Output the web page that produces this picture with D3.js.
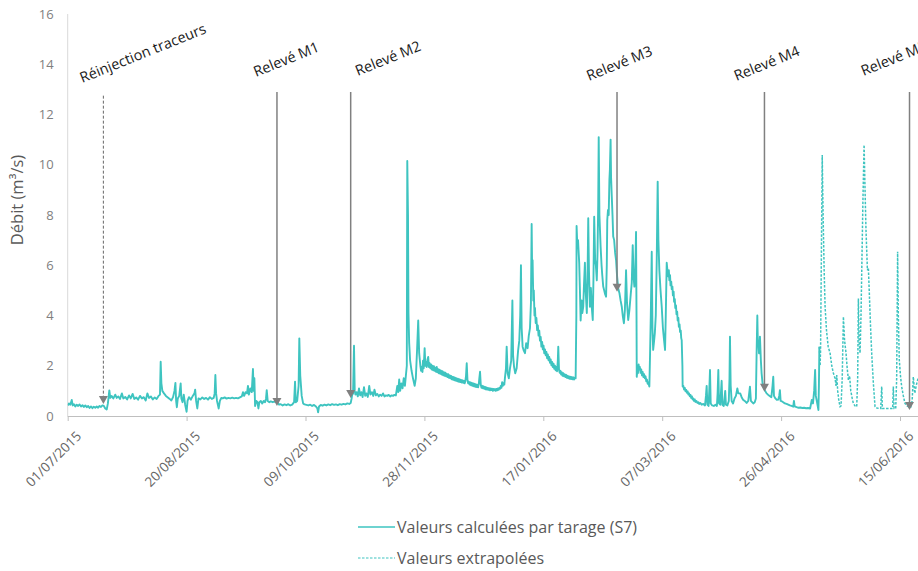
<!DOCTYPE html>
<html>
<head>
<meta charset="utf-8">
<script src="https://cdn.jsdelivr.net/npm/d3@7"></script>
<style>
  html, body { margin: 0; padding: 0; background: #fff; }
  svg { display: block; font-family: "Open Sans", "DejaVu Sans", sans-serif; }
</style>
</head>
<body>
<svg id="chart" width="918" height="571"></svg>
<script>
// Débit à la station S7 — series as [jour depuis le 01/07/2015, débit m³/s]
const startDate = "01/07/2015";
const endDate = "25/06/2016";

const xTickLabels = ["01/07/2015", "20/08/2015", "09/10/2015", "28/11/2015",
  "17/01/2016", "07/03/2016", "26/04/2016", "15/06/2016"];
const yTicks = [0, 2, 4, 6, 8, 10, 12, 14, 16];

// Valeurs calculées par tarage (S7)
const measuredSeries = [
  [0,0.42],[0.5,0.5],[1.1,0.45],[1.7,0.64],[2.1,0.42],[2.6,0.47],[3.2,0.38],[3.8,0.45],[4.4,0.4],[5,0.46],
  [5.6,0.38],[6.2,0.43],[6.8,0.36],[7.4,0.42],[8,0.35],[8.6,0.4],[9.2,0.32],[9.8,0.38],[10.4,0.31],[11,0.37],
  [11.6,0.33],[12.2,0.38],[12.8,0.33],[13.4,0.4],[14,0.36],[14.6,0.42],[15.2,0.4],[15.8,0.3],[16.4,0.26],[16.9,0.5],
  [17.2,0.75],[17.5,1.02],[17.9,0.72],[18.5,0.8],[19.2,0.7],[20,0.85],[20.6,0.72],[21.3,0.78],[22,0.68],[22.8,0.9],
  [23.4,0.7],[24.2,0.76],[25,0.66],[25.8,0.82],[26.5,0.7],[27.3,0.88],[28,0.68],[28.8,0.74],[29.6,0.65],[30.4,0.8],
  [31.2,0.7],[32,0.75],[32.8,0.62],[33.5,0.9],[34.2,0.72],[35,0.78],[35.8,0.66],[36.6,0.74],[37.4,0.68],[38.2,0.8],
  [38.8,0.85],[39.1,2.16],[39.4,1.3],[39.8,1.0],[40.5,0.9],[41.3,0.8],[42.1,0.74],[42.9,0.68],[43.6,0.62],[44.3,0.75],
  [44.9,1.0],[45.3,1.32],[45.6,0.6],[45.9,0.35],[46.3,0.7],[46.9,0.8],[47.5,1.3],[47.8,0.7],[48.3,0.55],[48.8,0.85],
  [49.4,0.45],[50,0.17],[50.4,0.6],[51,0.75],[51.8,0.65],[52.6,0.8],[53.3,0.9],[53.6,1.05],[54,0.6],[54.5,0.3],
  [55,0.7],[55.8,0.66],[56.6,0.74],[57.4,0.68],[58.2,0.72],[59,0.65],[59.8,0.75],[60.6,0.68],[61.4,0.72],[61.8,0.9],
  [62.1,1.63],[62.4,0.9],[62.8,0.6],[63.5,0.3],[64,0.6],[64.6,0.72],[65.2,0.7],[66,0.74],[66.8,0.69],[67.6,0.72],
  [68.4,0.7],[69.2,0.73],[70,0.7],[70.8,0.72],[71.6,0.7],[72.4,0.74],[73.2,0.78],[73.7,0.95],[74.2,0.8],[74.8,0.95],
  [75.4,0.9],[75.8,1.2],[76.2,0.85],[76.8,1.1],[77.4,0.95],[77.9,1.87],[78.2,1.0],[78.5,1.5],[78.8,0.4],[79.3,0.6],
  [79.8,0.55],[80.2,0.3],[80.6,0.55],[81.2,0.6],[81.8,0.5],[82.4,0.6],[83,0.55],[83.4,0.7],[83.7,1.03],[84.1,0.6],
  [84.8,0.55],[85.4,0.58],[86.2,0.55],[87,0.57],[87.8,0.55],[88.3,0.54],[88.9,0.45],[89.6,0.47],[90.4,0.42],[91.2,0.46],
  [92,0.43],[92.8,0.47],[93.6,0.42],[94.4,0.45],[95.2,0.55],[95.6,1.37],[95.9,0.55],[96.5,0.6],[97.1,1.2],[97.4,3.09],
  [97.8,1.6],[98.4,0.8],[99,0.5],[99.6,0.46],[100.4,0.44],[101.2,0.42],[102,0.45],[102.8,0.4],[103.6,0.44],[104.4,0.38],
  [105,0.3],[105.3,0.15],[105.7,0.38],[106.4,0.44],[107.2,0.41],[108,0.45],[108.8,0.42],[109.6,0.46],[110.4,0.43],[111.2,0.47],
  [112,0.44],[112.8,0.46],[113.6,0.43],[114.4,0.47],[115.2,0.45],[116,0.48],[116.8,0.46],[117.6,0.5],[118.4,0.48],[119,0.52],
  [119.4,0.7],[119.6,0.84],[120,0.9],[120.4,2.8],[120.7,1.0],[121,0.85],[121.5,0.95],[122,0.78],[122.5,1.1],[123,0.82],
  [123.5,0.95],[124,0.75],[124.6,1.15],[125.1,0.8],[125.6,0.9],[126.2,0.76],[126.8,1.2],[127.3,0.85],[127.9,0.95],[128.5,0.8],
  [129,1.05],[129.6,0.82],[130.2,0.88],[130.8,0.78],[131.4,0.85],[132,0.8],[132.6,0.9],[133.2,0.78],[133.8,0.82],[134.4,0.8],
  [135,0.84],[135.6,0.78],[136.2,0.82],[136.8,0.8],[137.4,0.84],[138,0.82],[138.6,1.2],[139,0.95],[139.4,1.45],[139.8,1.0],
  [140.3,1.3],[140.8,1.1],[141.3,1.5],[141.8,1.2],[142.2,1.6],[142.6,2.0],[142.8,10.15],[143.1,8.0],[143.3,4.1],[143.6,2.9],
  [144,2.2],[144.6,1.8],[145.2,1.5],[145.9,1.2],[146.4,1.5],[146.9,2.6],[147.4,3.8],[147.8,2.5],[148.3,2.0],[148.6,1.8],
  [148.9,1.95],[149.2,1.75],[149.4,2.2],[149.7,1.9],[150.1,2.7],[150.4,2.0],[150.7,2.15],[151,1.95],[151.3,2.25],[151.6,2.35],
  [151.9,1.95],[152.2,2.1],[152.5,1.9],[152.8,2.05],[153.1,1.85],[153.4,2.0],[153.7,1.82],[154,1.98],[154.3,1.8],[154.6,1.92],
  [154.9,1.76],[155.2,1.95],[155.5,1.74],[155.8,1.86],[156.1,1.7],[156.4,1.84],[156.7,1.68],[157,1.8],[157.3,1.65],[157.6,1.78],
  [157.9,1.62],[158.2,1.74],[158.5,1.6],[158.8,1.72],[159.1,1.58],[159.4,1.68],[159.7,1.55],[160,1.66],[160.3,1.52],[160.6,1.62],
  [160.9,1.5],[161.2,1.6],[161.5,1.46],[161.8,1.56],[162.1,1.44],[162.4,1.55],[162.7,1.42],[163,1.52],[163.3,1.4],[163.6,1.5],
  [163.9,1.38],[164.2,1.48],[164.5,1.36],[164.8,1.46],[165.1,1.35],[165.4,1.44],[165.7,1.33],[166,1.42],[166.3,1.32],[166.6,1.4],
  [166.9,1.3],[167.2,1.38],[167.5,1.6],[167.8,2.1],[168.1,1.45],[168.4,1.3],[168.7,1.36],[169,1.25],[169.3,1.34],[169.6,1.22],
  [169.9,1.32],[170.2,1.2],[170.5,1.3],[170.8,1.18],[171.1,1.28],[171.4,1.16],[171.7,1.26],[172,1.15],[172.3,1.24],[172.6,1.14],
  [172.9,1.3],[173.1,1.5],[173.4,1.76],[173.7,1.25],[174,1.12],[174.3,1.2],[174.6,1.1],[174.9,1.18],[175.2,1.08],[175.5,1.16],
  [175.8,1.06],[176.1,1.14],[176.4,1.05],[176.7,1.12],[177,1.04],[177.3,1.1],[177.6,1.02],[177.9,1.1],[178.2,1.03],[178.5,1.08],
  [178.8,1.0],[179.1,1.08],[179.4,1.02],[179.7,1.07],[180,1.0],[180.3,1.08],[180.6,1.02],[180.9,1.1],[181.2,1.04],[181.5,1.12],
  [181.8,1.08],[182.1,1.2],[182.4,1.12],[182.7,1.35],[183,1.2],[183.3,1.3],[183.6,1.25],[183.9,1.55],[184.3,1.9],[184.6,2.76],
  [185,1.7],[185.5,1.5],[186,1.9],[186.5,2.2],[187,4.6],[187.3,2.4],[187.7,1.96],[188.2,1.7],[188.8,1.9],[189.4,2.6],
  [189.9,3.0],[190.3,4.0],[190.6,6.0],[190.9,3.5],[191.3,2.76],[191.8,2.6],[192.3,2.5],[192.8,2.9],[193.4,2.7],[193.9,3.2],
  [194.4,3.5],[194.8,4.5],[195.1,7.64],[195.3,5.8],[195.5,6.2],[195.8,4.6],[196,5.0],[196.3,4.0],[196.5,4.3],[196.8,3.7],
  [197.1,3.9],[197.4,3.42],[197.7,3.6],[198,3.2],[198.3,3.4],[198.6,3.0],[198.9,3.15],[199.2,2.76],[199.5,2.95],[199.8,2.65],
  [200.1,2.8],[200.4,2.5],[200.7,2.65],[201,2.42],[201.3,2.55],[201.6,2.3],[201.9,2.45],[202.2,2.22],[202.5,2.35],[202.8,2.12],
  [203.1,2.25],[203.4,2.02],[203.7,2.15],[204,1.95],[204.3,2.08],[204.6,1.88],[204.9,2.0],[205.2,1.82],[205.5,1.95],[205.8,1.78],
  [206.1,2.2],[206.3,2.76],[206.6,1.85],[206.9,1.72],[207.2,1.8],[207.5,1.65],[207.8,1.74],[208.1,1.6],[208.4,1.7],[208.7,1.58],
  [209,1.66],[209.3,1.55],[209.6,1.64],[209.9,1.52],[210.2,1.6],[210.5,1.5],[210.8,1.58],[211.1,1.48],[211.4,1.56],[211.7,1.47],
  [212,1.55],[212.3,1.46],[212.6,1.54],[212.9,1.45],[213.2,1.52],[213.6,1.5],[213.9,4.0],[214,7.56],[214.3,6.8],[214.6,7.0],
  [215.1,6.1],[215.4,5.0],[215.7,3.8],[216.1,4.6],[216.4,4.1],[216.8,4.35],[217.1,5.2],[217.5,6.1],[217.8,5.0],[218.3,4.1],
  [218.6,5.5],[218.9,7.87],[219.2,5.8],[219.6,4.35],[220,5.1],[220.4,4.3],[220.8,3.82],[221.1,5.5],[221.4,7.93],[221.8,6.2],
  [222.1,6.0],[222.5,5.4],[222.8,6.5],[223.1,8.5],[223.3,11.1],[223.6,8.0],[224.1,6.74],[224.5,6.0],[224.8,5.6],[225.2,5.15],
  [225.6,5.0],[226,4.85],[226.4,4.75],[226.7,6.0],[226.9,7.8],[227.2,8.2],[227.5,8.0],[227.8,9.4],[228,9.8],[228.3,11.0],
  [228.5,9.5],[228.8,8.73],[229.1,8.0],[229.4,7.14],[229.8,7.0],[230.2,6.5],[230.6,6.2],[231,5.6],[231.5,5.08],[232,4.9],
  [232.5,4.6],[233,4.35],[233.4,4.0],[233.9,3.69],[234.3,4.2],[234.8,5.8],[235.2,4.5],[235.7,3.82],[236.2,4.2],[236.8,4.88],
  [237.2,5.3],[237.6,6.8],[238,5.5],[238.3,5.15],[238.7,5.8],[239,7.33],[239.2,4.0],[239.3,1.56],[239.6,1.9],[239.8,1.7],
  [240.1,2.05],[240.3,1.85],[240.6,1.95],[240.9,1.72],[241.2,1.85],[241.5,1.62],[241.8,1.75],[242.1,1.55],[242.4,1.66],[242.7,1.5],
  [243,1.58],[243.3,1.38],[243.6,1.45],[243.9,1.28],[244.2,1.32],[244.6,1.17],[244.9,2.5],[245.2,4.0],[245.6,6.54],[245.9,3.5],
  [246.2,2.63],[246.6,3.0],[246.9,3.3],[247.3,4.0],[247.7,6.2],[248.1,9.33],[248.4,7.0],[248.8,5.8],[249.3,5.0],[249.8,4.35],
  [250.3,3.5],[250.8,3.0],[251.2,2.63],[251.5,4.0],[251.9,6.1],[252.2,5.8],[252.6,5.55],[252.8,5.8],[253,5.4],[253.3,5.6],
  [253.5,5.2],[253.8,5.35],[254,5.05],[254.3,5.15],[254.5,4.8],[254.8,4.95],[255,4.55],[255.3,4.65],[255.5,4.3],[255.8,4.4],
  [256,4.05],[256.3,4.15],[256.5,3.8],[256.8,3.9],[257,3.55],[257.3,3.65],[257.5,3.35],[257.8,3.4],[258,3.1],[258.2,3.02],
  [258.5,2.0],[258.6,1.17],[258.9,1.2],[259.2,1.05],[259.5,1.12],[259.8,0.98],[260.1,1.04],[260.4,0.92],[260.7,0.98],[261,0.85],
  [261.3,0.9],[261.6,0.78],[261.9,0.84],[262.2,0.72],[262.5,0.78],[262.8,0.66],[263.1,0.7],[263.4,0.6],[263.7,0.66],[264,0.56],
  [264.4,0.6],[264.8,0.52],[265.2,0.55],[265.6,0.48],[266,0.52],[266.6,0.45],[267.3,0.48],[268,0.42],[268.4,0.8],[268.7,1.2],
  [269,0.45],[269.5,0.4],[269.8,1.0],[270.1,1.83],[270.4,0.5],[271,0.42],[271.7,0.4],[272.4,0.45],[273,0.4],[273.3,0.9],
  [273.6,1.83],[273.9,0.5],[274.4,0.45],[275,1.4],[275.3,0.45],[275.9,0.4],[276.5,1.0],[276.8,0.45],[277.4,0.42],[278,0.6],
  [278.3,1.5],[278.5,3.16],[278.8,1.2],[279.2,0.6],[279.8,0.5],[280.4,0.7],[281,0.8],[281.6,1.1],[282,0.9],[282.8,0.9],
  [283.4,0.75],[284,0.65],[284.7,0.6],[285.5,0.52],[286.2,0.6],[286.9,1.17],[287.3,0.6],[288.3,0.5],[288.9,0.55],[289.4,0.7],
  [289.7,2.5],[290,4.0],[290.2,3.0],[290.4,3.0],[290.7,2.5],[291.1,3.16],[291.5,2.2],[291.8,1.7],[292.2,1.3],[292.7,1.1],
  [293.3,1.0],[293.9,0.9],[294.5,0.85],[295.2,0.8],[295.9,0.75],[296.4,1.2],[296.7,1.56],[297,0.8],[297.6,0.7],[298.2,0.64],
  [298.8,0.65],[299.2,0.8],[299.5,1.03],[299.8,0.6],[300.4,0.58],[300.9,0.55],[301.6,0.5],[302.3,0.48],[303,0.45],[303.7,0.42],
  [304.4,0.4],[305.1,0.37],[305.4,0.6],[305.7,0.38],[306.5,0.35],[307.3,0.33],[308.1,0.34],[308.9,0.32],[309.7,0.33],[310.5,0.31],
  [311.3,0.32],[312.2,0.3],[312.9,0.64],[313.4,0.5],[313.9,1.0],[314.3,1.83],[314.6,0.8],[315,0.6],[315.4,0.4],[315.7,0.24],
  [315.9,1.2],[316.1,2.76]
];

// Valeurs extrapolées
const extrapolatedSeries = [
  [316.1,2.76],[316.4,2.0],[316.6,2.63],[316.9,6.0],[317.3,10.39],[317.5,9.0],[317.7,7.8],[318.1,5.8],[318.5,4.35],[319.1,3.4],
  [319.8,2.76],[320.6,2.5],[321.3,2.0],[322,1.7],[322.7,1.5],[323.1,1.2],[323.4,1.63],[323.8,1.0],[324.3,0.6],[324.8,0.37],
  [325.2,0.4],[325.7,1.5],[326.2,3.95],[326.7,3.0],[327.3,2.5],[327.8,1.9],[328.3,1.43],[328.8,1.6],[329.3,1.0],[329.9,0.7],
  [330.4,0.5],[331.1,0.4],[331.8,0.37],[332.2,1.5],[332.5,4.68],[332.8,3.0],[333.2,2.5],[333.6,4.0],[333.9,5.68],[334.4,8.5],
  [334.9,10.79],[335.3,9.0],[335.7,7.4],[336.3,5.8],[336.7,5.9],[337.1,4.9],[337.6,3.6],[338.1,2.5],[338.8,1.3],[339.5,0.37],
  [340.3,0.32],[341.2,0.3],[341.9,0.3],[342.3,1.17],[342.6,0.3],[343.5,0.3],[344.3,0.3],[345.1,0.3],[346,0.3],[346.9,0.3],
  [347.2,1.17],[347.5,0.3],[348.2,0.3],[348.6,1.5],[349,6.54],[349.3,4.0],[349.7,2.23],[350.2,1.6],[350.7,1.17],[351.4,0.8],
  [352.1,0.5],[353,0.4],[353.8,0.36],[354.5,0.35],[355.1,0.6],[355.6,1.56],[356.2,0.9],[356.8,1.2],[357.6,1.5],[358.5,1.3]
];

// Événements : date, libellé, haut du trait et pointe de la flèche (m³/s)
const eventDates  = ["16/07/2015", "27/09/2015", "28/10/2015", "17/02/2016", "19/04/2016", "19/06/2016"];
const eventLabels = ["Réinjection traceurs", "Relevé M1", "Relevé M2", "Relevé M3", "Relevé M4", "Relevé M5"];
const eventTop    = [12.75, 12.9, 12.9, 12.9, 12.9, 12.9];
const eventTip    = [0.48, 0.4, 0.72, 4.95, 0.97, 0.24];

const legendLabels = ["Valeurs calculées par tarage (S7)", "Valeurs extrapolées"];

// ---------------------------------------------------------------------------
const parseDate = d3.timeParse("%d/%m/%Y");
const t0 = parseDate(startDate);
const toDate = day => d3.timeMinute.offset(t0, Math.round(day * 1440));

const svg = d3.select("#chart");
const W = 918, H = 571;
const plot = { left: 67.7, top: 14, bottom: 416 };
const pxPerDay = 2.378;
const t1 = parseDate(endDate);
const spanDays = (t1 - t0) / 864e5;

const x = d3.scaleTime().domain([t0, t1]).range([plot.left, plot.left + spanDays * pxPerDay]);
const y = d3.scaleLinear().domain([0, 16]).range([plot.bottom, plot.top]);

const teal = "#3ec4c0";
const grey = "#808080";

// axe des ordonnées
svg.append("line")
  .attr("x1", plot.left).attr("x2", plot.left)
  .attr("y1", plot.top).attr("y2", plot.bottom)
  .attr("stroke", "#d9d9d9").attr("stroke-width", 1);

const yAxis = svg.append("g")
  .attr("transform", `translate(${plot.left},0)`)
  .call(d3.axisLeft(y).tickValues(yTicks).tickSize(0).tickPadding(14));
yAxis.select(".domain").remove();
yAxis.selectAll("text")
  .attr("fill", "#7f7f7f")
  .style("font-size", "13px")
  .style("font-family", "'Open Sans', sans-serif");

svg.append("text")
  .attr("transform", `translate(23,200) rotate(-90)`)
  .attr("text-anchor", "middle")
  .attr("fill", "#595959")
  .style("font-size", "16.5px")
  .text("Débit (m³/s)");

// axe des abscisses
const xTickDates = xTickLabels.map(parseDate);
const xAxis = svg.append("g")
  .attr("transform", `translate(0,${plot.bottom})`)
  .call(d3.axisBottom(x).tickValues(xTickDates).tickSize(5).tickFormat(d3.timeFormat("%d/%m/%Y")));
xAxis.select(".domain")
  .attr("d", `M${plot.left},0.5H${W}`)
  .attr("stroke", "#bfbfbf");
xAxis.selectAll(".tick line").attr("stroke", "#bfbfbf");
xAxis.selectAll(".tick text")
  .attr("fill", "#666666")
  .style("font-size", "13.5px")
  .style("font-family", "'Open Sans', sans-serif")
  .attr("text-anchor", "end")
  .attr("dy", "0.35em")
  .attr("transform", "translate(5,12) rotate(-45)");

// séries
svg.append("clipPath").attr("id", "plotClip")
  .append("rect").attr("x", plot.left).attr("y", 0).attr("width", W - plot.left).attr("height", plot.bottom + 1);

const line = d3.line()
  .x(d => x(toDate(d[0])))
  .y(d => y(d[1]));

const series = svg.append("g").attr("clip-path", "url(#plotClip)");
series.append("path")
  .datum(measuredSeries)
  .attr("d", line)
  .attr("fill", "none")
  .attr("stroke", teal)
  .attr("stroke-width", 1.9)
  .attr("stroke-linejoin", "round");
series.append("path")
  .datum(extrapolatedSeries)
  .attr("d", line)
  .attr("fill", "none")
  .attr("stroke", teal)
  .attr("stroke-width", 1.5)
  .attr("stroke-dasharray", "2.5,1.5");

// repères d'événements
const labelOffset = [[-21, 83], [-21, 77], [7, 76], [-28, 81], [-28, 81], [-46, 76]];
const events = eventDates.map((d, i) => ({
  date: parseDate(d), label: eventLabels[i], top: eventTop[i], tip: eventTip[i], off: labelOffset[i], dashed: i === 0
}));

const ev = svg.append("g");
events.forEach(e => {
  const ex = x(e.date);
  const tipY = y(e.tip);
  ev.append("line")
    .attr("x1", ex).attr("x2", ex)
    .attr("y1", y(e.top)).attr("y2", tipY - 6)
    .attr("stroke", e.dashed ? "#666" : grey)
    .attr("stroke-width", e.dashed ? 1 : 1.5)
    .attr("stroke-dasharray", e.dashed ? "3,2" : null);
  ev.append("path")
    .attr("d", `M${ex - 4.5},${tipY - 8}L${ex + 4.5},${tipY - 8}L${ex},${tipY}Z`)
    .attr("fill", grey);
  ev.append("text")
    .attr("transform", `translate(${ex + e.off[0]},${e.off[1]}) rotate(-22)`)
    .attr("fill", "#1a1a1a")
    .style("font-size", "14.5px")
    .text(e.label);
});

// légende
const legend = svg.append("g").attr("transform", "translate(358,527)");
legendLabels.forEach((lab, i) => {
  const g = legend.append("g").attr("transform", `translate(0,${i * 31})`);
  g.append("line")
    .attr("x1", 0).attr("x2", 37).attr("y1", 0).attr("y2", 0)
    .attr("stroke", teal)
    .attr("stroke-width", i === 0 ? 1.5 : 1.2)
    .attr("stroke-dasharray", i === 0 ? null : "2.5,1.5");
  g.append("text")
    .attr("x", 39).attr("y", 5.5)
    .attr("fill", "#595959")
    .style("font-size", "16px")
    .text(lab);
});
</script>
</body>
</html>
